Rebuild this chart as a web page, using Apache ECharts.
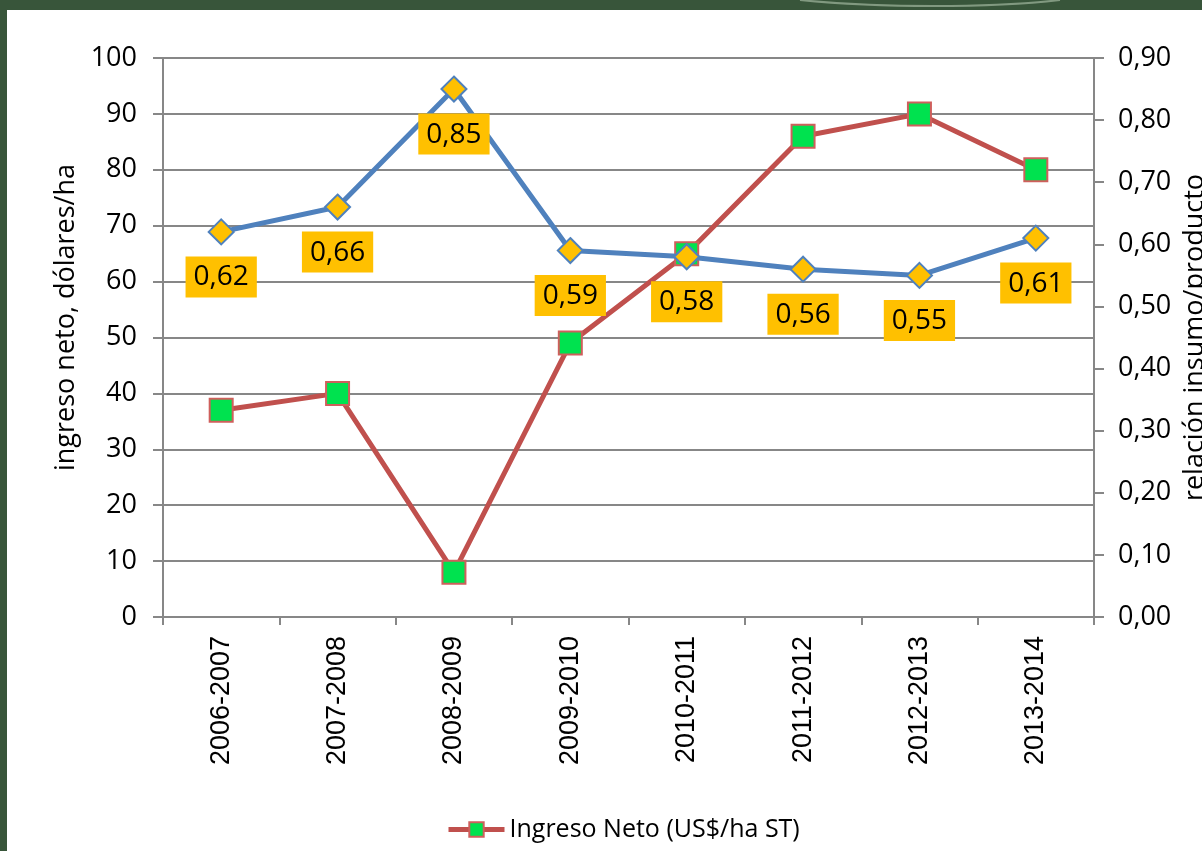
<!DOCTYPE html>
<html>
<head>
    <meta charset="utf-8">
    <title>Ingreso neto y relación insumo/producto</title>
    <script src="https://cdn.jsdelivr.net/npm/echarts@6/dist/echarts.min.js"></script>
    <style>
        html, body { margin: 0; padding: 0; background: #38553a; }
        #chart { width: 1202px; height: 851px; }
    </style>
</head>
<body>
<div id="chart"></div>
<script>
    // datos
    var campanias = ['2006-2007', '2007-2008', '2008-2009', '2009-2010', '2010-2011', '2011-2012', '2012-2013', '2013-2014'];
    var ingresoNeto = [37, 40, 8, 49, 65, 86, 90, 80];
    var relacionIP = [0.62, 0.66, 0.85, 0.59, 0.58, 0.56, 0.55, 0.61];

    var fuente = '"Open Sans", Lato, sans-serif';
    var gris = '#878787';

    var myChart = echarts.init(document.getElementById('chart'));
    var option = {
        backgroundColor: '#ffffff',
        animation: false,
        graphic: [
            // marco verde
            {type: 'rect', shape: {x: 0, y: 0, width: 1202, height: 10}, style: {fill: '#38553a'}, z: 100},
            {type: 'rect', shape: {x: 0, y: 0, width: 7, height: 851}, style: {fill: '#38553a'}, z: 100},
            {
                type: 'bezierCurve',
                shape: {x1: 800, y1: 0, x2: 1060, y2: 0, cpx1: 880, cpy1: 8, cpx2: 990, cpy2: 8},
                style: {stroke: 'rgba(190,210,185,0.55)', lineWidth: 2, fill: null},
                z: 101
            }
        ],
        grid: {left: 163, right: 108, top: 58, bottom: 234, outerBoundsMode: 'none'},
        legend: {
            data: ['Ingreso Neto (US$/ha ST)'],
            left: 441,
            top: 812,
            itemWidth: 56,
            itemHeight: 18,
            itemGap: 6,
            lineStyle: {width: 5},
            textStyle: {fontFamily: fuente, fontSize: 25, color: '#000'}
        },
        xAxis: {
            type: 'category',
            data: campanias,
            boundaryGap: true,
            axisLine: {lineStyle: {color: gris, width: 2}},
            axisTick: {show: true, length: 8, lineStyle: {color: gris, width: 2}},
            axisLabel: {
                rotate: 90,
                margin: 19,
                color: '#000',
                fontFamily: '"Liberation Sans", Arial, sans-serif',
                fontSize: 27
            }
        },
        yAxis: [
            {
                type: 'value',
                min: 0,
                max: 100,
                interval: 10,
                name: 'ingreso neto, dólares/ha',
                nameLocation: 'middle',
                nameGap: 82,
                nameTextStyle: {fontFamily: fuente, fontSize: 27, color: '#000', padding: [0, 0, 0, 40]},
                axisLine: {show: true, lineStyle: {color: gris, width: 2}},
                axisTick: {show: true, length: 10, lineStyle: {color: gris, width: 2}},
                splitLine: {lineStyle: {color: gris, width: 2}},
                axisLabel: {margin: 26, color: '#000', fontFamily: fuente, fontSize: 27}
            },
            {
                type: 'value',
                min: 0,
                max: 0.9,
                interval: 0.1,
                name: 'relación insumo/producto',
                nameLocation: 'middle',
                nameGap: 86,
                nameTextStyle: {fontFamily: fuente, fontSize: 27, color: '#000'},
                axisLine: {show: true, lineStyle: {color: gris, width: 2}},
                axisTick: {show: true, length: 10, lineStyle: {color: gris, width: 2}},
                splitLine: {show: false},
                axisLabel: {
                    margin: 24,
                    color: '#000',
                    fontFamily: fuente,
                    fontSize: 27,
                    formatter: function (v) { return v.toFixed(2).replace('.', ','); }
                }
            }
        ],
        series: [
            {
                name: 'Ingreso Neto (US$/ha ST)',
                type: 'line',
                yAxisIndex: 0,
                data: ingresoNeto,
                symbol: 'rect',
                symbolSize: 23,
                lineStyle: {color: '#c0504d', width: 5},
                itemStyle: {color: '#00e24f', borderColor: '#cf5f5c', borderWidth: 2},
                z: 2
            },
            {
                name: 'relación insumo/producto',
                type: 'line',
                yAxisIndex: 1,
                data: relacionIP,
                symbol: 'diamond',
                symbolSize: 25,
                lineStyle: {color: '#4f81bd', width: 5},
                itemStyle: {color: '#ffc000', borderColor: '#4f81bd', borderWidth: 2},
                label: {
                    show: true,
                    position: 'bottom',
                    distance: 11,
                    backgroundColor: '#ffc000',
                    padding: [7, 8, 6, 8],
                    color: '#000',
                    fontFamily: fuente,
                    fontSize: 28,
                    formatter: function (p) { return p.value.toFixed(2).replace('.', ','); }
                },
                z: 3
            }
        ]
    };
    myChart.setOption(option);
</script>
</body>
</html>
